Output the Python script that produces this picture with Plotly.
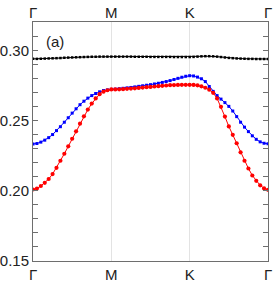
import plotly.graph_objects as go

# k-path coordinate (Γ=0, M=1, K=2, Γ=3), 20 samples per segment
k_path = [round(i * 0.05, 2) for i in range(61)]
tick_vals = [0, 1, 2, 3]
tick_text = ["Γ", "M", "K", "Γ"]

band_black = [
    0.2942, 0.2942, 0.2943, 0.2944, 0.2945, 0.2946, 0.2947, 0.2948, 0.2950, 0.2951,
    0.2952, 0.2953, 0.2954, 0.2955, 0.2956, 0.2957, 0.2957, 0.2958, 0.2958, 0.2958, 0.2958,
    0.2958, 0.2958, 0.2958, 0.2958, 0.2958, 0.2957, 0.2957, 0.2957, 0.2957, 0.2956,
    0.2956, 0.2956, 0.2956, 0.2956, 0.2956, 0.2955, 0.2955, 0.2955, 0.2955, 0.2955,
    0.2956, 0.2958, 0.2960, 0.2961, 0.2961, 0.2960, 0.2958, 0.2955, 0.2952, 0.2949,
    0.2947, 0.2945, 0.2944, 0.2943, 0.2942, 0.2942, 0.2941, 0.2941, 0.2941, 0.2941,
]

band_blue = [
    0.2335, 0.2338, 0.2348, 0.2362, 0.2380, 0.2402, 0.2430, 0.2458, 0.2490, 0.2522,
    0.2555, 0.2586, 0.2615, 0.2640, 0.2662, 0.2680, 0.2695, 0.2707, 0.2716, 0.2721, 0.2724,
    0.2726, 0.2729, 0.2732, 0.2735, 0.2738, 0.2742, 0.2746, 0.2750, 0.2754, 0.2758,
    0.2763, 0.2768, 0.2774, 0.2780, 0.2787, 0.2795, 0.2803, 0.2811, 0.2818, 0.2822,
    0.2820, 0.2812, 0.2800, 0.2780, 0.2745, 0.2710, 0.2680, 0.2655, 0.2630, 0.2603,
    0.2570, 0.2530, 0.2490, 0.2455, 0.2423, 0.2393, 0.2368, 0.2350, 0.2340, 0.2336,
]

band_red = [
    0.2010, 0.2017, 0.2035, 0.2058, 0.2085, 0.2120, 0.2165, 0.2215, 0.2265, 0.2318,
    0.2372, 0.2425, 0.2480, 0.2532, 0.2580, 0.2623, 0.2660, 0.2690, 0.2708, 0.2718, 0.2724,
    0.2724, 0.2725, 0.2726, 0.2728, 0.2730, 0.2732, 0.2735, 0.2737, 0.2740, 0.2742,
    0.2745, 0.2747, 0.2750, 0.2752, 0.2754, 0.2755, 0.2756, 0.2757, 0.2757, 0.2757,
    0.2756, 0.2753, 0.2746, 0.2736, 0.2722, 0.2700, 0.2660, 0.2600, 0.2530, 0.2460,
    0.2400, 0.2340, 0.2275, 0.2215, 0.2160, 0.2110, 0.2072, 0.2040, 0.2018, 0.2008,
]

FONT = "Liberation Sans, Arial, sans-serif"
AX = "#6e6e6e"

fig = go.Figure()
fig.add_trace(go.Scatter(x=k_path, y=band_black, mode="lines+markers",
                         line=dict(color="black", width=1),
                         marker=dict(color="black", size=2.5, symbol="square")))
fig.add_trace(go.Scatter(x=k_path, y=band_blue, mode="lines+markers",
                         line=dict(color="#0000ff", width=1),
                         marker=dict(color="#0000ff", size=3, symbol="square")))
fig.add_trace(go.Scatter(x=k_path, y=band_red, mode="lines+markers",
                         line=dict(color="#ff0000", width=1),
                         marker=dict(color="#ff0000", size=4.2, symbol="circle")))
# invisible trace for top axis
fig.add_trace(go.Scatter(x=k_path, y=band_black, xaxis="x2", mode="markers",
                         marker=dict(opacity=0), hoverinfo="skip"))

fig.update_layout(
    width=273, height=284,
    margin=dict(l=33, r=5, t=22, b=23),
    paper_bgcolor="white", plot_bgcolor="white",
    showlegend=False,
    font=dict(family=FONT, size=14, color="#222"),
    xaxis=dict(range=[0, 3], tickvals=tick_vals, ticktext=tick_text,
               showgrid=True, gridcolor="#e3e3e3", gridwidth=1,
               showline=True, linecolor=AX, linewidth=1, mirror=True,
               ticks="", zeroline=False, automargin=False,
               ticklabeloverflow="allow",
               tickfont=dict(size=15, color="#222")),
    xaxis2=dict(range=[0, 3], tickvals=tick_vals, ticktext=tick_text,
                overlaying="x", side="top", matches="x", showgrid=False,
                showline=False, ticks="", zeroline=False, automargin=False,
                ticklabeloverflow="allow",
                tickfont=dict(size=15, color="#222")),
    yaxis=dict(range=[0.15, 0.3205], tickvals=[0.15, 0.20, 0.25, 0.30],
               ticktext=["0.15", "0.20", "0.25", "0.30"],
               showgrid=False, zeroline=False, automargin=False,
               showline=True, linecolor=AX, linewidth=1, mirror="allticks",
               ticks="inside", ticklen=5, tickcolor=AX, tickwidth=1,
               ticklabelstandoff=0, ticklabeloverflow="allow",
               minor=dict(dtick=0.01, tick0=0.15, ticks="inside", ticklen=3,
                          tickcolor=AX, tickwidth=1, showgrid=False),
               tickfont=dict(size=15, color="#222")),
    annotations=[dict(text="(a)", x=0.14, y=0.3065, xref="x", yref="y",
                      showarrow=False, xanchor="left", yanchor="middle",
                      font=dict(size=15, color="#222"))],
)

fig.write_html("out.html", config={"displayModeBar": False},
               post_script="document.body.style.margin='0';document.body.style.overflow='hidden';")
